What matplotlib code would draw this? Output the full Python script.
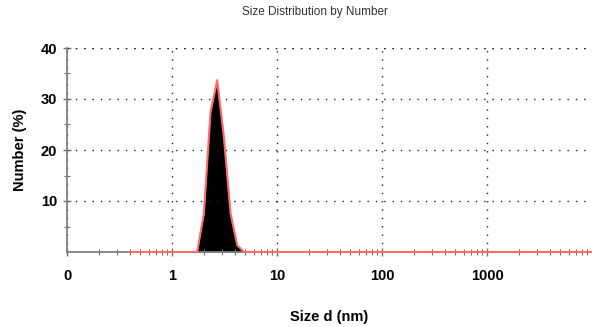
import matplotlib
matplotlib.use('Agg')
import matplotlib.pyplot as plt
from matplotlib.ticker import FixedLocator, LogLocator, NullFormatter

plt.rcParams['font.family'] = ['Liberation Sans', 'DejaVu Sans']

# size bins (nm) and number distribution (%)
sizes = [0.4, 1.499, 1.736, 2.010, 2.328, 2.696, 3.122, 3.615, 4.187, 4.849, 5.615, 10000]
number = [0, 0, 0, 7.5, 27.5, 33.7, 22.5, 7.5, 1.3, 0, 0, 0]

xticks = [0.1, 1, 10, 100, 1000]
xticklabels = ['0', '1', '10', '100', '1000']
yticks = [10, 20, 30, 40]

fig = plt.figure(figsize=(5.92, 3.27), dpi=100)
ax = fig.add_axes([67 / 592, 1 - 252 / 327, 1 - 67 / 592, 204 / 327])

ax.fill_between(sizes, number, 0, color='black', lw=0)
ax.plot(sizes, number, color='#ff6b6b', lw=1.5, zorder=3, clip_on=False)

ax.set_xscale('log')
ax.set_xlim(0.1, 10000)
ax.set_ylim(0, 40)

ax.xaxis.set_major_locator(FixedLocator(xticks))
ax.set_xticklabels(xticklabels)
ax.xaxis.set_minor_locator(LogLocator(base=10, subs=range(2, 10), numticks=20))
ax.xaxis.set_minor_formatter(NullFormatter())
ax.set_yticks(yticks)
ax.set_yticks([5, 15, 25, 35], minor=True)

for t in ax.get_xticklabels() + ax.get_yticklabels():
    t.set_fontweight('bold')
ax.tick_params(axis='x', which='major', direction='inout', length=6, width=1,
               color='#707070', pad=9, labelsize=10.5)
ax.tick_params(axis='x', which='minor', direction='inout', length=4, width=0.8,
               color='#707070')
ax.tick_params(axis='y', which='major', direction='inout', length=6, width=1,
               color='#707070', pad=4, labelsize=10.5)
ax.tick_params(axis='y', which='minor', direction='inout', length=5, width=0.8,
               color='#707070')

ax.grid(True, which='major', color='#222222', linestyle=(0, (1, 5)), lw=1)
ax.axhline(40, color='#222222', linestyle=(0, (1, 5)), lw=1)

for s in ['top', 'right']:
    ax.spines[s].set_visible(False)
for s in ['left', 'bottom']:
    ax.spines[s].set_color('#808080')
    ax.spines[s].set_linewidth(1.3)

ax.set_xlabel('Size d (nm)', fontweight='bold', fontsize=10.5, labelpad=20)
ax.set_ylabel('Number (%)', fontweight='bold', fontsize=10.5, labelpad=10)

fig.text(0.532, 0.962, 'Size Distribution by Number', ha='center', va='center',
         fontsize=8.5, color='#333333')

fig.savefig('out.png', dpi=100)
